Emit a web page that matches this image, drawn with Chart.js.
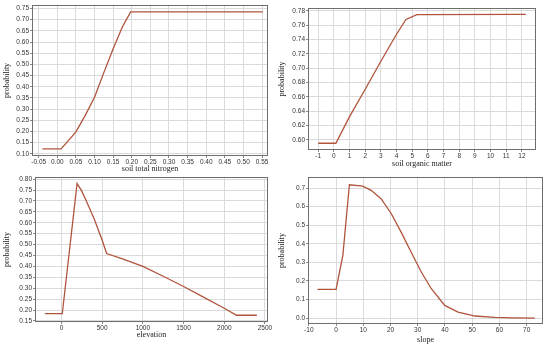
<!DOCTYPE html>
<html>
<head>
<meta charset="utf-8">
<script src="https://cdn.jsdelivr.net/npm/chart.js@4/dist/chart.umd.min.js"></script>
<style>
  body { margin: 0; background: #fff; }
  .panel { position: absolute; }
</style>
</head>
<body>
<div class="panel" id="p1" style="left:0;top:0;width:275px;height:175px"><canvas id="c1"></canvas></div>
<div class="panel" id="p2" style="left:275px;top:0;width:275px;height:172px"><canvas id="c2"></canvas></div>
<div class="panel" id="p3" style="left:0;top:172px;width:275px;height:175px"><canvas id="c3"></canvas></div>
<div class="panel" id="p4" style="left:275px;top:172px;width:275px;height:175px"><canvas id="c4"></canvas></div>
<script>
// soil total nitrogen
const nitrogenX = [-0.04, 0.01, 0.025, 0.05, 0.075, 0.10, 0.125, 0.15, 0.175, 0.197, 0.552];
const nitrogenY = [0.122, 0.122, 0.15, 0.198, 0.272, 0.353, 0.463, 0.57, 0.668, 0.735, 0.735];
const nitrogenXTicks = [-0.05, 0, 0.05, 0.10, 0.15, 0.20, 0.25, 0.30, 0.35, 0.40, 0.45, 0.50, 0.55];
const nitrogenYTicks = [0.10, 0.15, 0.20, 0.25, 0.30, 0.35, 0.40, 0.45, 0.50, 0.55, 0.60, 0.65, 0.70, 0.75];

// soil organic matter
const organicX = [-1, 0.13, 1, 2, 3, 4, 4.6, 5.3, 12.25];
const organicY = [0.5954, 0.5954, 0.6325, 0.6707, 0.7097, 0.7474, 0.768, 0.7748, 0.775];
const organicXTicks = [-1, 0, 1, 2, 3, 4, 5, 6, 7, 8, 9, 10, 11, 12];
const organicYTicks = [0.60, 0.62, 0.64, 0.66, 0.68, 0.70, 0.72, 0.74, 0.76, 0.78];

// elevation
const elevX = [-203, 10, 192, 250, 300, 400, 500, 555, 750, 1000, 1250, 1500, 1750, 2000, 2150, 2400];
const elevY = [0.183, 0.183, 0.78, 0.745, 0.705, 0.62, 0.52, 0.459, 0.435, 0.40, 0.355, 0.308, 0.258, 0.208, 0.176, 0.176];
const elevXTicks = [0, 500, 1000, 1500, 2000, 2500];
const elevYTicks = [0.15, 0.20, 0.25, 0.30, 0.35, 0.40, 0.45, 0.50, 0.55, 0.60, 0.65, 0.70, 0.75, 0.80];

// slope
const slopeX = [-6.8, 0, 2.5, 4.9, 9.8, 12.9, 16.6, 20.3, 23.9, 27.6, 31.3, 35, 39.9, 44.8, 51, 58.3, 65, 73];
const slopeY = [0.155, 0.155, 0.338, 0.718, 0.711, 0.688, 0.642, 0.562, 0.463, 0.355, 0.248, 0.158, 0.068, 0.032, 0.011, 0.004, 0.001, 0.0];
const slopeXTicks = [-10, 0, 10, 20, 30, 40, 50, 60, 70];
const slopeYTicks = [0.0, 0.1, 0.2, 0.3, 0.4, 0.5, 0.6, 0.7];

const lineColor = "rgb(176, 84, 60)";
const gridColor = "#dadada";

// draws the box around the plot area
const framePlugin = {
  id: "frame",
  afterDraw(chart) {
    const a = chart.chartArea;
    const ctx = chart.ctx;
    ctx.save();
    ctx.strokeStyle = "#6e6e6e";
    ctx.lineWidth = 1;
    ctx.strokeRect(Math.round(a.left) + 0.5, Math.round(a.top) + 0.5,
      Math.round(a.right - a.left) - 1, Math.round(a.bottom - a.top) - 1);
    ctx.restore();
  },
};

function makeChart(id, xs, ys, opts) {
  const points = xs.map((x, i) => ({ x: x, y: ys[i] }));
  return new Chart(document.getElementById(id), {
    type: "line",
    data: {
      datasets: [{
        data: points,
        borderColor: lineColor,
        borderWidth: 1.3,
        pointRadius: 0,
        tension: 0,
        fill: false,
      }],
    },
    options: {
      responsive: true,
      maintainAspectRatio: false,
      animation: false,
      events: [],
      layout: { padding: { top: opts.padTop, right: opts.padRight, left: 0, bottom: 0 } },
      plugins: { legend: { display: false }, tooltip: { enabled: false } },
      scales: {
        x: {
          type: "linear",
          min: opts.xMin,
          max: opts.xMax,
          afterBuildTicks: (s) => { s.ticks = opts.xTicks.map((v) => ({ value: v })); },
          afterFit: (s) => { s.height = opts.xHeight; },
          grid: { color: gridColor, drawTicks: true, tickLength: 2, tickColor: "#888" },
          border: { display: false },
          ticks: {
            padding: 0,
            maxRotation: 0,
            autoSkip: false,
            color: "#333",
            font: { family: "Liberation Sans", size: 6.5 },
            callback: (v) => v.toFixed(opts.xDec),
          },
          title: {
            display: true,
            text: opts.xTitle,
            color: "#222",
            padding: { top: 0, bottom: opts.xTitlePad },
            font: { family: "Liberation Serif", size: 8 },
          },
        },
        y: {
          type: "linear",
          min: opts.yMin,
          max: opts.yMax,
          afterBuildTicks: (s) => { s.ticks = opts.yTicks.map((v) => ({ value: v })); },
          afterFit: (s) => { s.width = opts.yWidth; },
          grid: { color: gridColor, drawTicks: true, tickLength: 2, tickColor: "#888" },
          border: { display: false },
          ticks: {
            padding: 1,
            autoSkip: false,
            color: "#333",
            font: { family: "Liberation Sans", size: 6.5 },
            callback: (v) => v.toFixed(opts.yDec),
          },
          title: {
            display: true,
            text: "probability",
            color: "#222",
            padding: { top: 2, bottom: 0 },
            font: { family: "Liberation Serif", size: 8 },
          },
        },
      },
    },
    plugins: [framePlugin],
  });
}

makeChart("c1", nitrogenX, nitrogenY, {
  xMin: -0.068, xMax: 0.566, yMin: 0.09, yMax: 0.766,
  xTicks: nitrogenXTicks, yTicks: nitrogenYTicks, xDec: 2, yDec: 2,
  xTitle: "soil total nitrogen", yWidth: 32, xHeight: 19, padTop: 3, padRight: 7, xTitlePad: 1,
});

makeChart("c2", organicX, organicY, {
  xMin: -1.65, xMax: 12.9, yMin: 0.586, yMax: 0.784,
  xTicks: organicXTicks, yTicks: organicYTicks, xDec: 0, yDec: 2,
  xTitle: "soil organic matter", yWidth: 33, xHeight: 22, padTop: 8, padRight: 14, xTitlePad: 3,
});

makeChart("c3", elevX, elevY, {
  xMin: -325, xMax: 2537, yMin: 0.145, yMax: 0.81,
  xTicks: elevXTicks, yTicks: elevYTicks, xDec: 0, yDec: 2,
  xTitle: "elevation", yWidth: 35, xHeight: 25, padTop: 5, padRight: 7, xTitlePad: 7,
});

makeChart("c4", slopeX, slopeY, {
  xMin: -10.3, xMax: 76, yMin: -0.032, yMax: 0.76,
  xTicks: slopeXTicks, yTicks: slopeYTicks, xDec: 0, yDec: 1,
  xTitle: "slope", yWidth: 33, xHeight: 23, padTop: 5, padRight: 7, xTitlePad: 2,
});
</script>
</body>
</html>
